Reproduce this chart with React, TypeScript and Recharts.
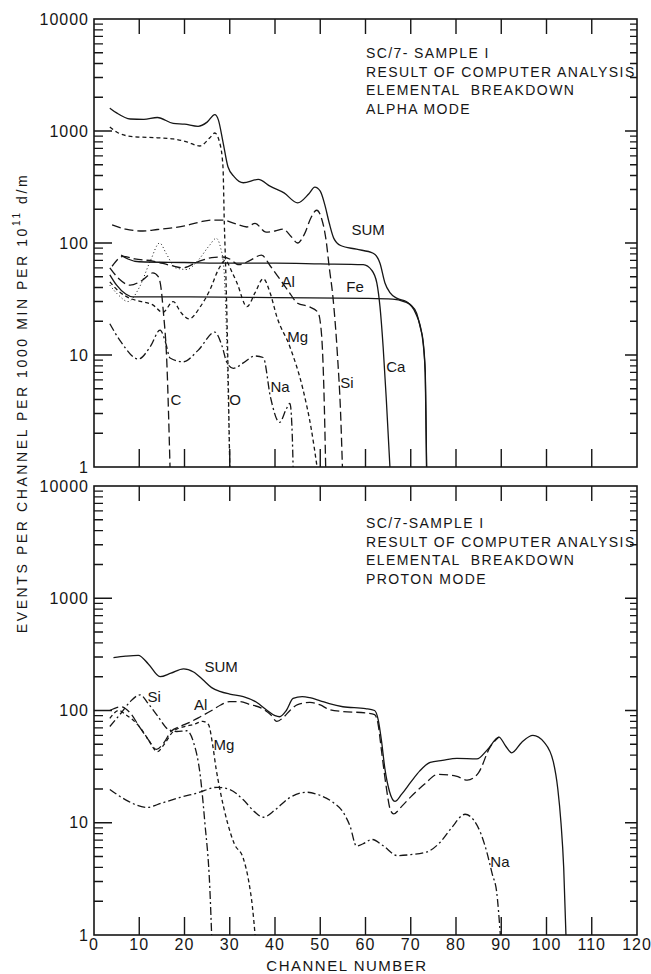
import React from 'react';
import { LineChart, Line, XAxis, YAxis, ReferenceDot } from 'recharts';

type Pt = [number, number];

const CHANNEL_TICKS = [0, 10, 20, 30, 40, 50, 60, 70, 80, 90, 100, 110, 120];
const DECADES = [1, 10, 100, 1000, 10000];
const LOG_TICKS = [
  1, 2, 3, 4, 5, 6, 7, 8, 9,
  10, 20, 30, 40, 50, 60, 70, 80, 90,
  100, 200, 300, 400, 500, 600, 700, 800, 900,
  1000, 2000, 3000, 4000, 5000, 6000, 7000, 8000, 9000,
  10000,
];

// ---- alpha mode (top panel), [channel, events] ----
const alphaSum: Pt[] = [
  [3.5, 1600], [5, 1450], [8, 1280], [11, 1270], [14, 1320], [17.5, 1170], [20, 1150], [23, 1100],
  [25, 1200], [26.7, 1400], [27.5, 1250], [28.5, 800], [29.6, 480], [31, 390], [33, 345], [36.3, 370],
  [39, 320], [42, 280], [45, 228], [47.5, 275], [48.8, 315], [50, 290], [51, 220], [52, 150], [53, 110],
  [54.5, 95], [58, 88], [61.7, 81], [63.2, 66], [64.3, 44], [65.4, 36], [67, 32], [69, 30], [71, 24],
  [72.5, 15], [73.2, 7], [73.5, 1],
];
const alphaO: Pt[] = [
  [3.5, 1086], [5, 980], [8.6, 890], [14, 870], [17.5, 850], [20.5, 800], [23.4, 735], [25.6, 870],
  [26.7, 960], [27.8, 780], [28.5, 480], [28.8, 150], [29.1, 60], [29.4, 20], [29.7, 5], [30, 1],
];
const alphaSi: Pt[] = [
  [4, 145], [7, 133], [10.8, 128], [14, 132], [17.5, 137], [20, 142], [23.4, 154], [26, 160],
  [28.5, 160], [31, 150], [33.8, 139], [35.6, 150], [38, 125], [40, 128], [41.8, 133], [43.5, 115],
  [45, 100], [46.5, 120], [48, 170], [49.2, 196], [50.2, 170], [51.3, 105], [52, 60], [52.8, 33],
  [53.8, 10], [54.5, 3], [54.9, 1],
];
const alphaFe: Pt[] = [
  [6, 78], [7.5, 72], [10, 68], [20, 67], [30, 66], [40, 66], [50, 65], [59.5, 64], [61.4, 57],
  [62.5, 44], [63.2, 27], [63.9, 11.8], [64.6, 4], [65.4, 1],
];
const alphaCa: Pt[] = [
  [3.5, 52], [5, 42], [7, 35], [8.6, 33], [20, 33], [40, 32.5], [60, 32], [66, 31.5], [68.5, 30],
  [70, 28], [71.3, 23.6], [72.2, 17], [72.7, 13.6], [73.2, 7], [73.5, 1],
];
const alphaAl: Pt[] = [
  [4, 62], [6.4, 76], [9, 72], [13, 69], [17, 63], [19.7, 60], [23, 68], [26, 74], [28.5, 75],
  [30, 72], [32, 64], [34.5, 70], [37, 78], [39, 62], [41, 48], [43, 37], [45, 29], [47.5, 27],
  [49.5, 24], [50.3, 15], [50.8, 5], [51.2, 1],
];
const alphaC: Pt[] = [
  [3.5, 60], [5.5, 48], [8, 42], [10.5, 46], [13, 54], [14.2, 50], [14.8, 40], [15.3, 25], [16.1, 8.5],
  [16.8, 1],
];
const alphaMg: Pt[] = [
  [3.5, 45], [5.5, 37], [8, 32], [10.5, 30], [13, 28], [15.2, 24], [17.5, 30], [19.2, 24], [21, 21],
  [23.5, 27], [25.6, 38], [27.5, 58], [29, 70], [30.5, 55], [31.6, 44], [33.8, 27], [35.6, 36],
  [37.4, 48], [39, 35], [40.4, 22], [43.3, 11.8], [46.2, 4.9], [48, 2.2], [49.3, 1],
];
const alphaNa: Pt[] = [
  [3.5, 19], [6, 13], [9.8, 9.2], [12.5, 12], [14.6, 16.7], [15.8, 13], [16.8, 9.4], [19.7, 8.7],
  [23, 11], [26.7, 16], [28.3, 12], [29.4, 8.5], [30.8, 7.6], [33, 8.5], [35.5, 9.8], [37.4, 9.5],
  [39, 4.2], [41, 2.5], [42.5, 3.3], [43.3, 3.7], [43.8, 2], [44, 1],
];
const alphaN: Pt[] = [
  [3.5, 42], [5.5, 34], [7.5, 30], [10, 40], [12.5, 70], [14.5, 100], [16, 80], [18, 60], [20.5, 58],
  [23, 70], [25.5, 95], [27, 110], [28, 90], [28.7, 60], [29.2, 20], [29.6, 5], [30, 1],
];

// ---- proton mode (bottom panel) ----
const protonSum: Pt[] = [
  [4.3, 296], [7, 305], [9.8, 310], [12, 260], [14.6, 200], [17, 215], [19.8, 235], [22, 220],
  [24, 189], [26, 160], [27.8, 148], [30, 140], [33, 133], [36, 118], [38, 102], [40, 90], [41, 88],
  [42.5, 100], [44, 128], [46, 133], [47.7, 130], [50, 122], [52, 115], [55, 108], [60, 104],
  [62, 100], [62.8, 83], [63.5, 55], [64.3, 30], [65.3, 19], [66.5, 15.5], [68, 18], [70, 23],
  [72, 29], [74.3, 34.5], [77, 36], [80.2, 37.5], [84.6, 37], [87, 45], [89.5, 58], [91, 48],
  [92.3, 42], [94.5, 52], [97, 60], [99.5, 52], [101.5, 35], [102.5, 20], [103.2, 10], [103.8, 4],
  [104.3, 1],
];
const protonAl: Pt[] = [
  [3.5, 100], [6, 108], [8, 95], [10, 72], [12, 55], [13.8, 45], [15.5, 52], [17, 65], [19, 72],
  [21, 78], [23.5, 88], [26, 100], [28, 112], [30, 120], [32, 120], [34.5, 113], [37, 105], [39, 92],
  [40.4, 80], [42, 88], [43.3, 100], [45, 113], [47.7, 118], [50, 112], [52, 102], [55, 98], [60, 95],
  [62, 92], [62.8, 75], [63.5, 45], [64.5, 22], [65.5, 13], [66.2, 12], [68, 14], [70, 17], [73, 22],
  [76, 27], [80, 26], [82.5, 24], [85, 28], [87.5, 47], [89.5, 58],
];
const protonSi: Pt[] = [
  [3.5, 72], [6, 95], [8, 120], [10.2, 138], [12, 115], [14, 90], [16.4, 68], [18.3, 65], [20.5, 66],
  [22, 52], [23.5, 26], [24.5, 10], [25.6, 2.6], [26, 1],
];
const protonMg: Pt[] = [
  [3.5, 85], [5.5, 100], [7, 92], [10, 72], [12, 55], [14, 43], [15.5, 50], [17.5, 65], [20, 72],
  [22, 75], [24, 80], [25.3, 75], [26.2, 50], [27, 30], [27.8, 20], [29.5, 10], [31, 6.5], [33, 4.8],
  [34.2, 3], [35, 1.8], [35.6, 1],
];
const protonNa: Pt[] = [
  [3.5, 19.8], [7, 16], [11.7, 13.7], [15, 15], [19, 16.8], [23, 18.5], [27.2, 20.7], [30, 19.8],
  [33, 16], [35.5, 12.5], [37.4, 11.2], [40, 13], [43, 16.5], [47, 18.7], [50, 17.5], [52.8, 15.2],
  [55, 12.5], [56.6, 9.3], [58, 6.2], [59.5, 6.5], [61.4, 7.1], [64, 6.2], [67, 5.1], [70, 5.2],
  [73.6, 5.5], [76.5, 6.7], [79, 9], [82, 11.9], [83.8, 10.7], [85.5, 8], [86.8, 5.5], [88, 3.5],
  [89, 2.4], [89.8, 1],
];

// curve labels: [text, channel, events]
const alphaLabels: [string, number, number][] = [
  ['SUM', 60.6, 131], ['Fe', 57.7, 40.5], ['Al', 42.9, 45], ['Mg', 45, 14.5], ['Si', 55.9, 5.7],
  ['Ca', 66.7, 7.8], ['Na', 41.1, 5.2], ['C', 18.1, 4], ['O', 31.2, 4],
];
const protonLabels: [string, number, number][] = [
  ['SUM', 28.1, 246], ['Si', 13.3, 133], ['Al', 23.6, 113], ['Mg', 28.7, 50], ['Na', 89.7, 4.46],
];

const alphaTitle = ['SC/7- SAMPLE I', 'RESULT OF COMPUTER ANALYSIS', 'ELEMENTAL  BREAKDOWN', 'ALPHA MODE'];
const protonTitle = ['SC/7-SAMPLE I', 'RESULT OF COMPUTER ANALYSIS', 'ELEMENTAL  BREAKDOWN', 'PROTON MODE'];

const INK = '#161616';
const FONT = '"Liberation Sans", Arial, sans-serif';
const DASH: Record<string, string | undefined> = {
  solid: undefined,
  long: '9 4',
  short: '4 3',
  dot: '1 2.5',
  dashDot: '8 3 2 3',
};

const alphaSeries: [string, Pt[], string][] = [
  ['sum', alphaSum, 'solid'], ['O', alphaO, 'short'], ['Si', alphaSi, 'long'], ['Fe', alphaFe, 'solid'],
  ['Ca', alphaCa, 'solid'], ['Al', alphaAl, 'long'], ['C', alphaC, 'long'], ['Mg', alphaMg, 'short'],
  ['Na', alphaNa, 'dashDot'], ['N', alphaN, 'dot'],
];
const protonSeries: [string, Pt[], string][] = [
  ['sum', protonSum, 'solid'], ['Al', protonAl, 'long'], ['Si', protonSi, 'dashDot'],
  ['Mg', protonMg, 'short'], ['Na', protonNa, 'dashDot'],
];

const toRows = (pts: Pt[]) => pts.map(([ch, v]) => ({ ch, v }));

// layout: one chart, two stacked log panels sharing the channel axis
const W = 651;
const H = 974;
const PLOT_LEFT = 94;
const PLOT_RIGHT = 637;
const PLOT_TOP = 19;
const PLOT_BOTTOM = 935;
const ALPHA = { top: 19, bottom: 467 };
const PROTON = { top: 486, bottom: 935 };
const aDecade = (ALPHA.bottom - ALPHA.top) / 4;
const pDecade = (PROTON.bottom - PROTON.top) / 4;
const alphaDomain = [Math.pow(10, -(PLOT_BOTTOM - ALPHA.bottom) / aDecade), 10000];
const protonDomain = [1, Math.pow(10, 4 + (PROTON.top - PLOT_TOP) / pDecade)];

const YLabel = ({ y, payload }: any) => {
  const v = payload.value;
  if (!DECADES.includes(v)) return <g />;
  return (
    <text x={PLOT_LEFT - 5} y={y} textAnchor="end" dominantBaseline="central"
      fontSize={16} letterSpacing={1} fontFamily={FONT} fill={INK}>{v}</text>
  );
};

const XLabel = ({ x, payload }: any) => (
  <text x={x} y={PROTON.bottom + 4} textAnchor="middle" dominantBaseline="hanging"
    fontSize={16} letterSpacing={1} fontFamily={FONT} fill={INK}>{payload.value}</text>
);

// a row of tick marks as one long dashed stroke: the stroke width is the tick length
const TICK_T = 1.4;
const TickRow = ({ pos, vertical, at, len }: { pos: number[]; vertical: boolean; at: number; len: number }) => {
  const s = [...pos].sort((a, b) => a - b);
  const dash: number[] = [];
  s.forEach((p, i) => {
    dash.push(TICK_T);
    if (i < s.length - 1) dash.push(s[i + 1] - p - TICK_T);
  });
  dash.push(2000);
  const a = s[0] - TICK_T / 2;
  const b = s[s.length - 1] + TICK_T / 2;
  const d = vertical ? `M${at},${a}L${at},${b}` : `M${a},${at}L${b},${at}`;
  return <path d={d} stroke={INK} strokeWidth={len} strokeDasharray={dash.join(' ')} fill="none" />;
};

const Frame = ({ panel }: { panel: { top: number; bottom: number } }) => {
  const dec = (panel.bottom - panel.top) / 4;
  const yOf = (v: number) => panel.bottom - Math.log10(v) * dec;
  const xOf = (c: number) => PLOT_LEFT + (c / 120) * (PLOT_RIGHT - PLOT_LEFT);
  const inner = LOG_TICKS.slice(1, -1);
  const minor = inner.filter((v) => !DECADES.includes(v)).map(yOf);
  const major = inner.filter((v) => DECADES.includes(v)).map(yOf);
  const chans = CHANNEL_TICKS.slice(1, -1).map(xOf);
  return (
    <g>
      <TickRow pos={minor} vertical at={PLOT_LEFT + 4.5} len={9} />
      <TickRow pos={major} vertical at={PLOT_LEFT + 9} len={18} />
      <TickRow pos={minor} vertical at={PLOT_RIGHT - 3.5} len={7} />
      <TickRow pos={major} vertical at={PLOT_RIGHT - 6} len={12} />
      <TickRow pos={chans} vertical={false} at={panel.top + 7.5} len={15} />
      <TickRow pos={chans} vertical={false} at={panel.bottom - 9} len={18} />
      <rect x={PLOT_LEFT} y={panel.top} width={PLOT_RIGHT - PLOT_LEFT} height={panel.bottom - panel.top}
        fill="none" stroke={INK} strokeWidth={1.6} />
    </g>
  );
};

const Title = ({ lines, x, y }: { lines: string[]; x: number; y: number }) => (
  <text x={x} y={y} fontSize={14} letterSpacing={1.4} fontFamily={FONT} fill={INK}>
    {lines.map((l, i) => (
      <tspan key={i} x={x} dy={i === 0 ? 0 : 18.5} style={{ whiteSpace: 'pre' }}>{l}</tspan>
    ))}
  </text>
);

export default function App() {
  const lines = (series: [string, Pt[], string][], axis: string) =>
    series.map(([name, pts, style]) => (
      <Line key={axis + name} yAxisId={axis} data={toRows(pts)} dataKey="v" type="monotone" dot={false}
        activeDot={false} stroke={INK} strokeWidth={style === 'dot' ? 1 : 1.3} strokeDasharray={DASH[style]}
        isAnimationActive={false} />
    ));
  const labels = (items: [string, number, number][], axis: string) =>
    items.map(([t, ch, v]) => (
      <ReferenceDot key={axis + t} yAxisId={axis} x={ch} y={v} r={0} fill="none" stroke="none"
        ifOverflow="visible"
        label={{ value: t, position: 'center', fill: INK, fontSize: 15, fontFamily: FONT }} />
    ));

  return (
    <div style={{ position: 'absolute', left: 0, top: 0, width: W, height: H, background: '#fff' }}>
      <LineChart width={W} height={H}
        margin={{ top: PLOT_TOP, right: W - PLOT_RIGHT - 1, bottom: H - PLOT_BOTTOM - 30, left: PLOT_LEFT - 60 }}>
        <XAxis type="number" dataKey="ch" domain={[0, 120]} ticks={CHANNEL_TICKS} interval={0}
          height={30} axisLine={false} tickLine={false} tick={(p: any) => <XLabel {...p} />} />
        <YAxis yAxisId="a" type="number" scale="log" domain={alphaDomain} ticks={DECADES} interval={0}
          allowDataOverflow width={60} axisLine={false} tickLine={false}
          tick={(p: any) => <YLabel {...p} />} />
        <YAxis yAxisId="p" orientation="right" type="number" scale="log" domain={protonDomain}
          ticks={DECADES} interval={0} allowDataOverflow width={1} axisLine={false} tickLine={false}
          tick={(p: any) => <YLabel {...p} />} />
        {lines(alphaSeries, 'a')}
        {lines(protonSeries, 'p')}
        {labels(alphaLabels, 'a')}
        {labels(protonLabels, 'p')}
      </LineChart>
      <svg width={W} height={H} style={{ position: 'absolute', left: 0, top: 0, pointerEvents: 'none' }}>
        <Frame panel={ALPHA} />
        <Frame panel={PROTON} />
        <Title lines={alphaTitle} x={366} y={58} />
        <Title lines={protonTitle} x={366} y={528} />
        <text x={22} y={403} transform="rotate(-90 22 403)" textAnchor="middle" dominantBaseline="central"
          fontSize={14} letterSpacing={2.6} fontFamily={FONT} fill={INK}>
          EVENTS PER CHANNEL PER 1000 MIN PER 10
          <tspan dy={-6} fontSize={10}>11</tspan>
          <tspan dy={6}> d/m</tspan>
        </text>
        <text x={347} y={965} textAnchor="middle" dominantBaseline="central"
          fontSize={15} letterSpacing={1.5} fontFamily={FONT} fill={INK}>CHANNEL NUMBER</text>
      </svg>
    </div>
  );
}
